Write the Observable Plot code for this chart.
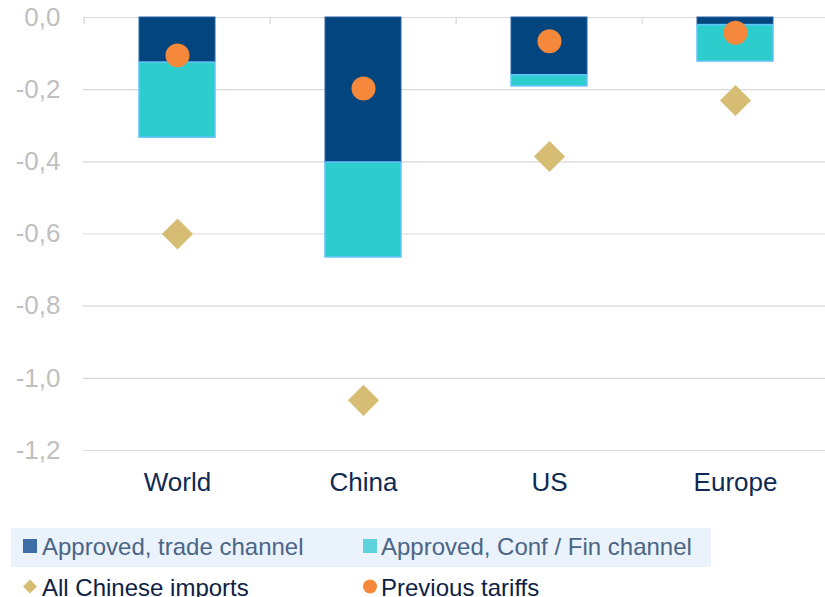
<!DOCTYPE html>
<html>
<head>
<meta charset="utf-8">
<script src="https://cdn.jsdelivr.net/npm/d3@7"></script>
<script src="https://cdn.jsdelivr.net/npm/@observablehq/plot@0.6"></script>
<style>
  html, body { margin: 0; padding: 0; background: #fff; }
  #wrap { position: relative; width: 825px; height: 597px; overflow: hidden; font-family: Arial, "Liberation Sans", sans-serif; }
  #legend { position: absolute; left: 0; top: 520px; }
</style>
</head>
<body>
<div id="wrap"><div id="chart"></div><div id="legend"></div></div>
<script>
const categories = ["World", "China", "US", "Europe"];
const tradeChannel = [-0.125, -0.402, -0.160, -0.021];
const confFinChannel = [-0.208, -0.263, -0.031, -0.101];
const allChineseImports = [-0.600, -1.061, -0.385, -0.230];
const previousTariffs = [-0.105, -0.197, -0.066, -0.042];
const yTicks = [0, -0.2, -0.4, -0.6, -0.8, -1.0, -1.2];
const legendLabels = ["Approved, trade channel", "Approved, Conf / Fin channel", "All Chinese imports", "Previous tariffs"];

const colors = {dark: "#03457F", cyan: "#2ECDCD", orange: "#F5883A", gold: "#D7BD74", grid: "#D9D9D9"};

const rows = categories.map((c, i) => ({
  cat: c,
  trade: tradeChannel[i],
  conf: confFinChannel[i],
  total: tradeChannel[i] + confFinChannel[i],
  imports: allChineseImports[i],
  prev: previousTariffs[i]
}));

const xRange = [83, 829.6];
const step = (xRange[1] - xRange[0]) / categories.length;

const chart = Plot.plot({
  width: 825,
  height: 520,
  marginTop: 17,
  marginBottom: 70,
  marginLeft: 83,
  marginRight: 0,
  style: {fontFamily: 'Arial, "Liberation Sans", sans-serif', background: "#fff"},
  x: {domain: categories, range: xRange, paddingInner: 0.593, paddingOuter: 0.2965, label: null},
  y: {domain: [-1.2, 0], range: [450, 17], label: null},
  marks: [
    Plot.ruleY(yTicks, {stroke: colors.grid, strokeWidth: 1.2}),
    Plot.ruleX(categories, {x: d => d, dx: -step / 2, y1: 0, y2: -0.02, stroke: colors.grid, strokeWidth: 1.2}),
    Plot.barY(rows, {x: "cat", y1: 0, y2: "trade", fill: colors.dark, stroke: "#2A64A6", strokeWidth: 1}),
    Plot.barY(rows, {x: "cat", y1: "trade", y2: "total", fill: colors.cyan, stroke: "#62C3FA", strokeWidth: 1.5}),
    Plot.dot(rows, {x: "cat", y: "imports", symbol: "diamond2", r: 14, fill: colors.gold, stroke: "none"}),
    Plot.dot(rows, {x: "cat", y: "prev", r: 12, fill: colors.orange, stroke: "none"}),
    Plot.axisY(yTicks, {anchor: "left", tickSize: 0, tickPadding: 23, fontSize: 26, fill: "#BFBFBF", label: null,
      tickFormat: d => d3.format(".1f")(d).replace(".", ",").replace("−", "-")}),
    Plot.axisX({anchor: "bottom", tickSize: 0, tickPadding: 22, fontSize: 26, fill: "#0E2A52", label: null})
  ]
});
document.getElementById("chart").appendChild(chart);

// Legend
const lg = d3.select("#legend").append("svg").attr("width", 825).attr("height", 77)
  .style("font-family", 'Arial, "Liberation Sans", sans-serif');
lg.append("rect").attr("x", 11).attr("y", 8).attr("width", 700).attr("height", 39).attr("fill", "#EAF2FB");
const sw = [
  {x: 23, shape: "square", color: "#3D6DA6", text: legendLabels[0], tx: 42, y: 26, tc: "#4B6586"},
  {x: 363, shape: "square", color: "#5CD3DC", text: legendLabels[1], tx: 381, y: 26, tc: "#4B6586"},
  {x: 23, shape: "diamond", color: "#D7BD74", text: legendLabels[2], tx: 42, y: 66.5, tc: "#0E2245"},
  {x: 363, shape: "circle", color: "#F5883A", text: legendLabels[3], tx: 381, y: 66.5, tc: "#0E2245"}
];
sw.forEach(s => {
  if (s.shape === "square") {
    lg.append("rect").attr("x", s.x).attr("y", s.y - 7).attr("width", 14).attr("height", 14).attr("fill", s.color);
  } else if (s.shape === "diamond") {
    const cx = s.x + 7, cy = s.y;
    lg.append("path").attr("d", `M${cx},${cy-7}L${cx+7},${cy}L${cx},${cy+7}L${cx-7},${cy}Z`).attr("fill", s.color);
  } else {
    lg.append("circle").attr("cx", s.x + 7).attr("cy", s.y).attr("r", 7).attr("fill", s.color);
  }
  lg.append("text").attr("x", s.tx).attr("y", s.y + 9).attr("font-size", 24).attr("fill", s.tc).text(s.text);
});
</script>
</body>
</html>
